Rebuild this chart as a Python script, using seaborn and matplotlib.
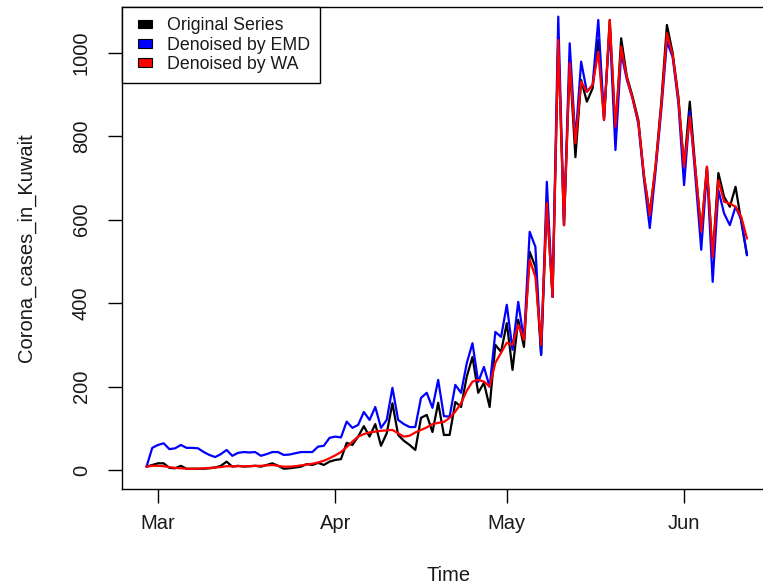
import numpy as np
import pandas as pd
import matplotlib
matplotlib.use("Agg")
import matplotlib.pyplot as plt
import matplotlib.dates as mdates
from matplotlib.patches import Patch, Rectangle
from matplotlib.legend_handler import HandlerPatch
import seaborn as sns

# ---------------- data (daily, 2020-02-28 .. 2020-06-12) ----------------
start_date = "2020-02-28"
original_series = [
    8, 12, 16, 16, 5, 4, 10, 3, 3, 3,
    3, 4, 6, 10, 20, 8, 10, 8, 9, 10,
    8, 12, 16, 10, 3, 4, 6, 8, 14, 12,
    17, 12, 20, 24, 26, 65, 60, 80, 105, 80,
    110, 58, 88, 160, 84, 70, 60, 48, 125, 132,
    91, 161, 84, 84, 163, 151, 224, 271, 185, 209,
    151, 300, 283, 352, 240, 360, 295, 523, 487, 276,
    640, 415, 1031, 587, 976, 750, 935, 883, 915, 1031,
    839, 1079, 810, 1035, 943, 895, 839, 703, 615, 727,
    880, 1067, 1000, 895, 727, 883, 719, 571, 727, 511,
    712, 655, 631, 679, 595, 515,
]
denoised_emd = [
    8, 53, 60, 64, 50, 52, 60, 53, 53, 52,
    43, 36, 31, 38, 48, 34, 41, 43, 42, 43,
    34, 38, 43, 43, 36, 37, 40, 43, 43, 43,
    56, 58, 77, 80, 78, 116, 101, 108, 139, 120,
    151, 101, 120, 197, 120, 110, 103, 103, 173, 185,
    149, 216, 129, 128, 204, 185, 256, 304, 211, 247,
    199, 331, 319, 396, 288, 403, 312, 571, 535, 276,
    691, 415, 1087, 587, 1023, 790, 979, 907, 923, 1079,
    845, 1060, 767, 1000, 935, 890, 830, 695, 580, 715,
    860, 1027, 990, 880, 683, 860, 700, 528, 720, 451,
    671, 615, 587, 631, 600, 515,
]
denoised_wa = [
    8, 10, 10, 9, 7, 5, 4, 3, 3, 3,
    4, 5, 6, 7, 9, 9, 9, 9, 9, 10,
    10, 11, 12, 10, 8, 8, 9, 11, 13, 15,
    18, 22, 28, 35, 43, 55, 68, 80, 86, 90,
    92, 94, 95, 96, 88, 80, 82, 90, 96, 102,
    110, 113, 115, 125, 140, 160, 190, 212, 216, 212,
    200, 257, 281, 305, 300, 348, 312, 504, 463, 300,
    640, 415, 1031, 587, 976, 783, 931, 907, 923, 1003,
    839, 1079, 823, 1015, 940, 890, 835, 705, 610, 727,
    870, 1047, 995, 890, 727, 847, 719, 571, 727, 511,
    695, 643, 639, 631, 607, 555,
]
series_names = ["Original Series", "Denoised by EMD", "Denoised by WA"]
series_colors = ["#000000", "#0000FF", "#FF0000"]
month_ticks = ["2020-03-01", "2020-04-01", "2020-05-01", "2020-06-01"]
month_labels = ["Mar", "Apr", "May", "Jun"]
y_ticks = [0, 200, 400, 600, 800, 1000]

dates = pd.date_range(start_date, periods=len(original_series), freq="D")
df = pd.concat([
    pd.DataFrame({"Time": dates, "value": vals, "series": name})
    for name, vals in zip(series_names, [original_series, denoised_emd, denoised_wa])
], ignore_index=True)

# ---------------- style ----------------
sns.set_style("white")
plt.rcParams["font.family"] = ["Liberation Sans", "DejaVu Sans"]
TXT = "#1a1a1a"

W, H = 763, 586
fig = plt.figure(figsize=(W / 100, H / 100), dpi=100)
left_px, right_px, top_px, bottom_px = 122, 775, 7, 489
ax = fig.add_axes([left_px / W, (H - bottom_px) / H,
                   (right_px - left_px) / W, (bottom_px - top_px) / H])

sns.lineplot(data=df, x="Time", y="value", hue="series",
             hue_order=series_names, palette=series_colors,
             linewidth=1.6, legend=False, ax=ax, estimator=None)

mar1 = mdates.date2num(pd.Timestamp("2020-03-01"))
ax.set_xlim(mar1 - 6.29, mar1 + 107.9)
ax.set_ylim(-45.6, 1110)

ax.set_xticks([pd.Timestamp(t) for t in month_ticks])
ax.set_xticklabels(month_labels)
ax.set_yticks(y_ticks)
ax.set_yticklabels([str(v) for v in y_ticks], rotation=90, va="center")

for name, s in ax.spines.items():
    s.set_visible(name != "right")
    s.set_color("black")
    s.set_linewidth(1.0)

ax.tick_params(axis="both", which="major", direction="out", length=10,
               width=1.0, color="black", labelsize=14.5, labelcolor=TXT,
               bottom=True, left=True)
ax.tick_params(axis="x", pad=8)
ax.tick_params(axis="y", pad=12.5)

ax.set_xlabel("Time", fontsize=14.5, color=TXT, labelpad=24)
ax.set_ylabel("Corona_cases_in_Kuwait", fontsize=14.5, color=TXT, labelpad=26)


class BoxHandler(HandlerPatch):
    """Small filled box, right-aligned inside the handle area (R legend style)."""
    def create_artists(self, legend, orig_handle, xdescent, ydescent,
                       width, height, fontsize, trans):
        bw = 14 * 72 / 100.0
        bh = 8.5 * 72 / 100.0
        r = Rectangle((-xdescent + width - bw, -ydescent + (height - bh) / 2),
                      bw, bh, facecolor=orig_handle.get_facecolor(),
                      edgecolor="black", linewidth=0.8, transform=trans)
        return [r]


handles = [Patch(facecolor=c, edgecolor="black", linewidth=0.8) for c in series_colors]
leg = ax.legend(handles, series_names, loc="upper left", bbox_to_anchor=(0, 1),
                borderaxespad=0, fancybox=False, framealpha=1, edgecolor="black",
                fontsize=12.8, handlelength=1.1, handleheight=0.7,
                handletextpad=0.84, labelspacing=0.13, borderpad=0.58,
                handler_map={Patch: BoxHandler()})
leg.get_frame().set_linewidth(1.0)
for t in leg.get_texts():
    t.set_color(TXT)

fig.savefig("out.png", dpi=100)
